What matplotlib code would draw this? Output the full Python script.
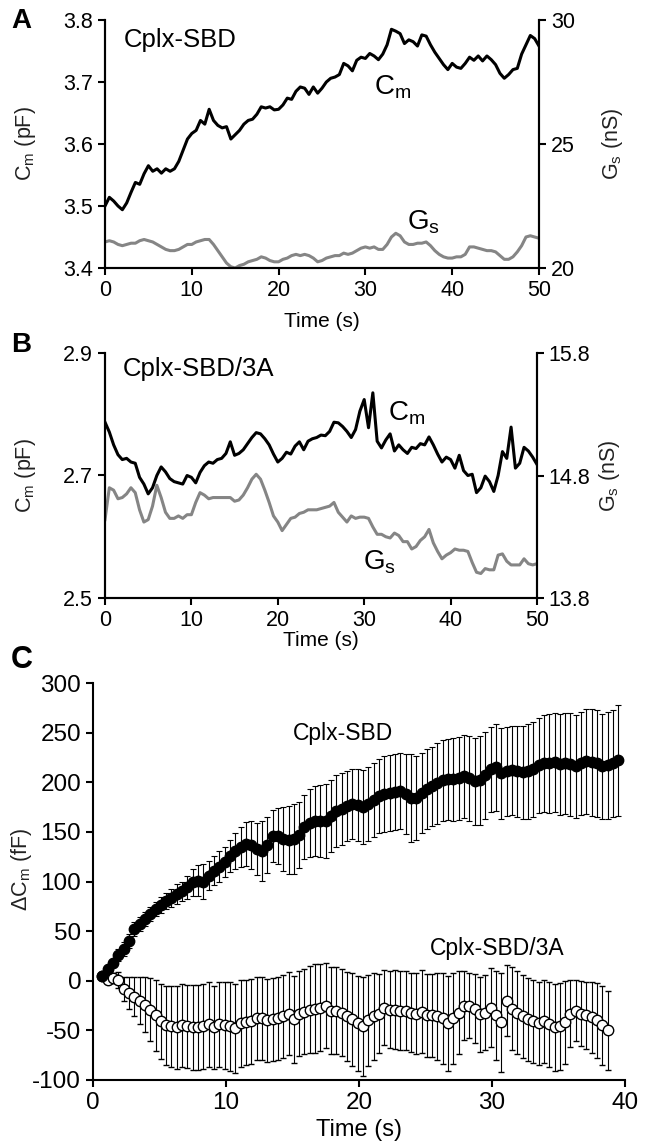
import numpy as np
import matplotlib
matplotlib.use('Agg')
import matplotlib.pyplot as plt

plt.rcParams['font.family'] = ['Liberation Sans', 'DejaVu Sans']
plt.rcParams['mathtext.fontset'] = 'custom'
plt.rcParams['mathtext.rm'] = 'Liberation Sans'
plt.rcParams['mathtext.it'] = 'Liberation Sans:italic'
plt.rcParams['axes.unicode_minus'] = False

# Panel A: Cplx-SBD single cell trace (0.5 s samples, 0-50 s)
a_cm = [3.500, 3.514, 3.508, 3.500, 3.494, 3.505, 3.522, 3.538, 3.535, 3.552,
        3.565, 3.556, 3.560, 3.553, 3.560, 3.556, 3.560, 3.572, 3.590, 3.608,
        3.617, 3.622, 3.638, 3.632, 3.656, 3.638, 3.630, 3.626, 3.628, 3.608,
        3.615, 3.622, 3.632, 3.638, 3.640, 3.648, 3.660, 3.658, 3.660, 3.655,
        3.656, 3.663, 3.674, 3.672, 3.685, 3.692, 3.690, 3.680, 3.692, 3.682,
        3.690, 3.700, 3.706, 3.708, 3.712, 3.730, 3.726, 3.718, 3.735, 3.740,
        3.738, 3.746, 3.742, 3.736, 3.745, 3.760, 3.785, 3.782, 3.778, 3.762,
        3.768, 3.765, 3.758, 3.776, 3.774, 3.760, 3.748, 3.738, 3.728, 3.720,
        3.730, 3.724, 3.722, 3.730, 3.740, 3.735, 3.742, 3.734, 3.742, 3.736,
        3.728, 3.714, 3.706, 3.712, 3.720, 3.722, 3.745, 3.760, 3.775, 3.770,
        3.758]
a_gs = [21.05, 21.10, 21.05, 20.95, 20.90, 20.95, 21.00, 21.00, 21.10, 21.15,
        21.10, 21.05, 20.95, 20.85, 20.75, 20.70, 20.70, 20.75, 20.85, 20.95,
        20.95, 21.05, 21.10, 21.15, 21.15, 20.95, 20.70, 20.45, 20.20, 20.05,
        20.00, 20.10, 20.15, 20.25, 20.30, 20.35, 20.45, 20.40, 20.30, 20.25,
        20.25, 20.35, 20.40, 20.50, 20.55, 20.50, 20.55, 20.50, 20.40, 20.25,
        20.30, 20.40, 20.45, 20.50, 20.50, 20.60, 20.55, 20.60, 20.70, 20.80,
        20.85, 20.80, 20.85, 20.75, 20.75, 20.95, 21.25, 21.40, 21.30, 21.05,
        20.95, 20.95, 21.00, 21.00, 21.05, 20.90, 20.70, 20.55, 20.45, 20.40,
        20.40, 20.45, 20.45, 20.55, 20.85, 20.85, 20.80, 20.75, 20.70, 20.70,
        20.65, 20.50, 20.35, 20.35, 20.45, 20.65, 20.90, 21.25, 21.30, 21.25,
        21.20]

# Panel B: Cplx-SBD/3A single cell trace
b_cm = [2.787, 2.771, 2.750, 2.734, 2.726, 2.728, 2.722, 2.720, 2.697, 2.686,
        2.670, 2.680, 2.700, 2.714, 2.706, 2.695, 2.690, 2.688, 2.686, 2.700,
        2.697, 2.688, 2.705, 2.716, 2.722, 2.720, 2.726, 2.728, 2.736, 2.755,
        2.733, 2.736, 2.742, 2.752, 2.762, 2.770, 2.768, 2.760, 2.750, 2.735,
        2.722, 2.728, 2.738, 2.735, 2.748, 2.755, 2.742, 2.756, 2.760, 2.762,
        2.766, 2.765, 2.772, 2.787, 2.786, 2.780, 2.772, 2.762, 2.775, 2.805,
        2.824, 2.778, 2.835, 2.756, 2.745, 2.758, 2.768, 2.740, 2.750, 2.742,
        2.736, 2.746, 2.744, 2.752, 2.750, 2.763, 2.750, 2.735, 2.722, 2.730,
        2.726, 2.712, 2.733, 2.708, 2.700, 2.702, 2.672, 2.680, 2.699, 2.690,
        2.674, 2.700, 2.739, 2.728, 2.779, 2.712, 2.720, 2.746, 2.740, 2.730,
        2.718]
b_gs = [14.44, 14.70, 14.68, 14.61, 14.62, 14.65, 14.70, 14.66, 14.52, 14.42,
        14.44, 14.55, 14.72, 14.62, 14.50, 14.45, 14.45, 14.47, 14.45, 14.48,
        14.48, 14.58, 14.66, 14.64, 14.61, 14.62, 14.62, 14.62, 14.62, 14.62,
        14.59, 14.60, 14.64, 14.70, 14.77, 14.81, 14.77, 14.68, 14.58, 14.47,
        14.42, 14.35, 14.40, 14.45, 14.46, 14.49, 14.50, 14.52, 14.52, 14.52,
        14.53, 14.54, 14.55, 14.58, 14.50, 14.46, 14.42, 14.47, 14.45, 14.46,
        14.46, 14.45, 14.38, 14.32, 14.32, 14.30, 14.29, 14.33, 14.31, 14.26,
        14.26, 14.20, 14.22, 14.27, 14.30, 14.36, 14.25, 14.18, 14.12, 14.15,
        14.17, 14.20, 14.19, 14.19, 14.18, 14.09, 14.01, 14.00, 14.04, 14.03,
        14.03, 14.15, 14.16, 14.10, 14.07, 14.07, 14.07, 14.12, 14.08, 14.07,
        14.08]

# Panel C: mean +/- SEM of delta Cm (fF), sampled every 0.4 s from 0.7 s
sbd_mean = [5, 12, 18, 26, 32, 40, 52, 57, 62, 67,
            72, 76, 80, 83, 87, 90, 94, 99, 101, 100,
            106, 111, 115, 120, 126, 131, 135, 138, 137, 133,
            131, 137, 146, 146, 143, 142, 143, 147, 155, 159,
            161, 161, 161, 166, 171, 173, 176, 178, 177, 175,
            178, 182, 186, 188, 189, 190, 191, 188, 184, 184,
            189, 193, 196, 199, 202, 203, 203, 204, 206, 204,
            201, 202, 207, 213, 215, 209, 211, 212, 211, 210,
            211, 213, 217, 219, 219, 220, 218, 219, 218, 216,
            219, 221, 220, 219, 216, 217, 219, 222]
sbd_err = [2, 3, 4, 6, 7, 7, 7, 7, 7, 7,
           7, 8, 8, 9, 10, 10, 12, 14, 16, 18,
           15, 15, 16, 15, 16, 18, 20, 22, 24, 26,
           30, 28, 26, 28, 32, 34, 35, 33, 32, 34,
           35, 36, 37, 36, 36, 36, 35, 35, 36, 37,
           37, 37, 37, 38, 38, 38, 38, 40, 44, 42,
           40, 40, 40, 41, 41, 41, 42, 42, 42, 43,
           44, 45, 44, 43, 44, 46, 45, 45, 46, 47,
           48, 48, 48, 49, 50, 50, 51, 51, 52, 52,
           52, 53, 54, 54, 53, 54, 54, 56]
sbd3a_mean = [5, 1, 3, 1, -8, -12, -16, -20, -24, -29,
              -35, -41, -45, -46, -47, -45, -46, -47, -47, -46,
              -44, -47, -44, -45, -46, -48, -43, -42, -41, -38,
              -38, -40, -39, -38, -36, -33, -39, -33, -31, -29,
              -28, -27, -25, -30, -30, -32, -36, -39, -43, -46,
              -40, -36, -33, -27, -29, -29, -30, -30, -32, -33,
              -31, -35, -35, -36, -38, -43, -38, -32, -25, -25,
              -28, -34, -32, -27, -35, -42, -20, -28, -32, -36,
              -39, -41, -43, -41, -44, -47, -46, -42, -33, -30,
              -33, -35, -37, -40, -45, -50]
sbd3a_err = [2, 3, 5, 8, 12, 16, 20, 24, 28, 32,
             36, 38, 40, 41, 42, 42, 42, 43, 43, 43,
             43, 42, 43, 44, 45, 45, 44, 43, 43, 42,
             42, 42, 42, 42, 42, 42, 44, 43, 43, 44,
             45, 44, 43, 44, 44, 44, 45, 47, 48, 50,
             46, 44, 40, 38, 39, 40, 40, 40, 40, 41,
             42, 42, 42, 44, 46, 48, 46, 42, 35, 33,
             35, 38, 38, 40, 45, 50, 36, 42, 42, 42,
             42, 42, 42, 42, 43, 44, 44, 42, 34, 31,
             33, 34, 36, 38, 40, 40]

trace_dt = 0.5
avg_t0, avg_dt = 0.7, 0.4
t_trace = np.arange(len(a_cm)) * trace_dt
t_sbd = avg_t0 + np.arange(len(sbd_mean)) * avg_dt
t_sbd3a = avg_t0 + np.arange(len(sbd3a_mean)) * avg_dt

W, H = 649, 1147
fig = plt.figure(figsize=(W / 100, H / 100), dpi=100)

def px_axes(left, top, right, bottom):
    return fig.add_axes([left / W, 1 - bottom / H, (right - left) / W, (bottom - top) / H])

grey = '#858585'
tick_kw = dict(direction='out', length=5, width=1.5, labelsize=15.5)


def trace_panel(ax, cm, gs, cm_lim, gs_lim, cm_ticks, gs_ticks, name, cm_xy, gs_xy, name_xy, xpad):
    ax2 = ax.twinx()
    ax.plot(t_trace, cm, color='black', lw=2.2, zorder=3)
    ax2.plot(t_trace, gs, color=grey, lw=2.2)
    ax.set_zorder(ax2.get_zorder() + 1)
    ax.patch.set_visible(False)
    ax.set_xlim(0, 50)
    ax.set_ylim(*cm_lim)
    ax2.set_ylim(*gs_lim)
    ax.set_xticks([0, 10, 20, 30, 40, 50])
    ax.set_yticks(cm_ticks)
    ax2.set_yticks(gs_ticks)
    for a in (ax, ax2):
        a.spines['top'].set_visible(False)
        for s in a.spines.values():
            s.set_linewidth(1.5)
        a.tick_params(**tick_kw)
    ax.set_xlabel('Time (s)', fontsize=15, labelpad=xpad)
    ax.set_ylabel(r'C$_\mathrm{m}$ (pF)', fontsize=15.5, color='#222222')
    ax2.set_ylabel(r'G$_\mathrm{s}$ (nS)', fontsize=15.5, color='#222222')
    ax.yaxis.set_label_coords(-0.155, 0.5)
    ax2.yaxis.set_label_coords(1.14, 0.5)
    ax.text(*cm_xy, r'C$_\mathrm{m}$', fontsize=20, transform=ax.transData)
    ax.text(*gs_xy, r'G$_\mathrm{s}$', fontsize=20, transform=ax.transData)
    ax.text(*name_xy, name, fontsize=18.5, transform=ax.transData)


# Panel A
axA = px_axes(105, 20, 539, 268)
trace_panel(axA, a_cm, a_gs, (3.4, 3.8), (20, 30), [3.4, 3.5, 3.6, 3.7, 3.8], [20, 25, 30],
            'Cplx-SBD', (31.0, 3.680), (34.8, 3.462), (2.2, 3.757), 8)
axA.set_yticklabels(['3.4', '3.5', '3.6', '3.7', '3.8'])

# Panel B
axB = px_axes(105, 353, 537, 598)
trace_panel(axB, b_cm, b_gs, (2.5, 2.9), (13.8, 15.8), [2.5, 2.7, 2.9], [13.8, 14.8, 15.8],
            'Cplx-SBD/3A', (32.8, 2.790), (29.9, 2.547), (2.1, 2.863), 0)

# Panel C
axC = px_axes(93, 683, 625, 1080)
axC.errorbar(t_sbd3a, sbd3a_mean, yerr=sbd3a_err, fmt='o', ms=7.5, mfc='white', mec='black',
             mew=1.0, ecolor='black', elinewidth=0.8, capsize=2.5, capthick=0.8, zorder=2)
axC.errorbar(t_sbd, sbd_mean, yerr=sbd_err, fmt='o', ms=7.5, mfc='black', mec='black',
             ecolor='black', elinewidth=0.8, capsize=2.5, capthick=0.8, zorder=3)
axC.set_xlim(0, 40)
axC.set_ylim(-100, 300)
axC.set_xticks([0, 10, 20, 30, 40])
axC.set_yticks(range(-100, 301, 50))
for s in ('top', 'right'):
    axC.spines[s].set_visible(False)
for s in ('left', 'bottom'):
    axC.spines[s].set_linewidth(1.5)
axC.tick_params(direction='out', length=5, width=1.5, labelsize=17.5)
axC.set_xlabel('Time (s)', fontsize=17, labelpad=4)
axC.set_ylabel(r'$\Delta$C$_\mathrm{m}$ (fF)', fontsize=15.5, color='#222222')
axC.yaxis.set_label_coords(-0.11, 0.53)
axC.text(15.0, 243, 'Cplx-SBD', fontsize=16.5)
axC.text(25.3, 26, 'Cplx-SBD/3A', fontsize=16.5)

# panel letters
fig.text(11 / W, 1 - 8 / H, 'A', fontsize=20, fontweight='bold', va='top')
fig.text(11 / W, 1 - 332 / H, 'B', fontsize=20, fontweight='bold', va='top')
fig.text(11 / W, 1 - 645 / H, 'C', fontsize=22, fontweight='bold', va='top')

fig.savefig('out.png', dpi=100)
